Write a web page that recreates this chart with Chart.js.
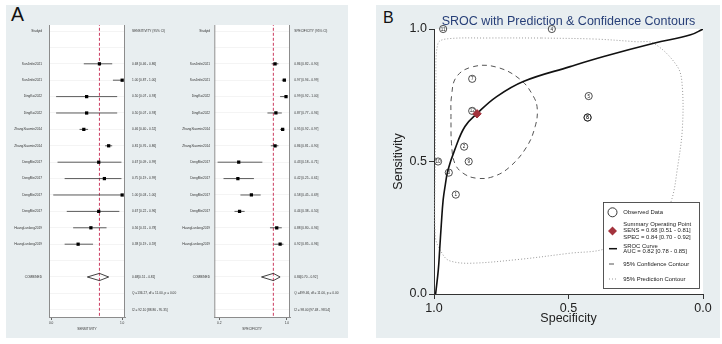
<!DOCTYPE html>
<html>
<head>
<meta charset="utf-8">
<script src="https://cdn.jsdelivr.net/npm/chart.js@4.4.1/dist/chart.umd.min.js"></script>
<style>
  body { margin: 0; background: #fff; width: 722px; height: 344px; position: relative; overflow: hidden; font-family: "Liberation Sans", Arial, sans-serif; }
  .panel { position: absolute; background: #e8eef0; }
  #panelA { left: 6px; top: 5px; width: 342px; height: 333px; }
  #panelB { left: 376px; top: 5px; width: 344px; height: 333px; }
  .tag { position: absolute; line-height: 1; color: #111; }
  canvas { position: absolute; }
</style>
</head>
<body>
<div class="panel" id="panelA"></div>
<div class="panel" id="panelB"></div>
<div class="tag" style="left:11px;top:5px;font-size:19.5px;">A</div>
<div class="tag" style="left:383px;top:9.6px;font-size:16px;">B</div>
<canvas id="sensPlot" width="342" height="333" style="left:6px;top:5px;"></canvas>
<canvas id="specPlot" width="342" height="333" style="left:6px;top:5px;"></canvas>
<canvas id="sroc" width="344" height="333" style="left:376px;top:5px;"></canvas>

<script>
// ---- forest plot data ----
const studies = ['SunJinfei2021', 'SunJinfei2021', 'DingKai2022', 'DingKai2022', 'ZhangXiaomin2014', 'ZhangXiaomin2014',
  'DongMei2017', 'DongMei2017', 'DongMei2017', 'DongMei2017', 'HuangLunlang2019', 'HuangLunlang2019'];
const sensEst = [0.68, 1.00, 0.50, 0.50, 0.46, 0.81, 0.67, 0.75, 1.00, 0.67, 0.56, 0.38];
const sensLo  = [0.46, 0.87, 0.07, 0.07, 0.40, 0.76, 0.09, 0.19, 0.03, 0.22, 0.31, 0.19];
const sensHi  = [0.86, 1.00, 0.93, 0.93, 0.52, 0.86, 0.99, 0.99, 1.00, 0.96, 0.78, 0.59];
const specEst = [0.86, 0.97, 0.99, 0.87, 0.95, 0.86, 0.43, 0.42, 0.58, 0.44, 0.88, 0.92];
const specLo  = [0.82, 0.94, 0.92, 0.77, 0.92, 0.81, 0.18, 0.25, 0.45, 0.38, 0.80, 0.85];
const specHi  = [0.90, 0.99, 1.00, 0.94, 0.97, 0.90, 0.71, 0.61, 0.69, 0.50, 0.94, 0.96];
const sensPooled = [0.68, 0.51, 0.81];
const specPooled = [0.84, 0.70, 0.92];
const sensStats = ['Q =136.27, df = 11.00, p = 0.00', 'I2 = 92.10 [88.86 - 95.35]'];
const specStats = ['Q =499.46, df = 11.00, p = 0.00', 'I2 = 98.00 [97.48 - 98.54]'];
const sensTicks = [0, 1];
const specTicks = [0.2, 1];

// ---- SROC data ----
const obsSpec  = [0.966, 0.562, 0.858, 0.425, 0.429, 0.429, 0.858, 0.888, 0.871, 0.985, 0.945, 0.919];
const obsSens  = [1.000, 1.000, 0.812, 0.747, 0.666, 0.666, 0.691, 0.556, 0.500, 0.500, 0.458, 0.375];
const obsLabel = ['11', '4', '7', '5', '6', '8', '12', '2', '9', '10', '3', '1'];
const summarySpec = 0.84;
const summarySens = 0.68;
const curveSpec = [0.994, 0.984, 0.979, 0.973, 0.966, 0.958, 0.948, 0.923, 0.885, 0.838, 0.767, 0.668, 0.494, 0.369, 0.183, 0.046, 0.0];
const curveSens = [0.000, 0.091, 0.166, 0.260, 0.355, 0.412, 0.468, 0.544, 0.632, 0.683, 0.745, 0.802, 0.858, 0.896, 0.946, 0.978, 1.0];
const confSpec = [0.937, 0.935, 0.916, 0.854, 0.767, 0.680, 0.630, 0.616, 0.624, 0.655, 0.718, 0.780, 0.842, 0.892, 0.923, 0.935, 0.937];
const confSens = [0.660, 0.745, 0.820, 0.858, 0.856, 0.810, 0.745, 0.696, 0.632, 0.556, 0.480, 0.443, 0.437, 0.456, 0.494, 0.569, 0.660];
const predSpec = [0.600, 0.400, 0.250, 0.183, 0.095, 0.077, 0.077, 0.096, 0.115, 0.146, 0.233, 0.369, 0.494, 0.680, 0.867, 0.941, 0.966, 0.995, 0.995, 0.993, 0.985, 0.950, 0.800, 0.600];
const predSens = [0.966, 0.962, 0.952, 0.946, 0.858, 0.783, 0.620, 0.468, 0.361, 0.298, 0.234, 0.169, 0.154, 0.131, 0.116, 0.125, 0.147, 0.216, 0.500, 0.800, 0.946, 0.963, 0.966, 0.966];
const legendText = {
  observed: 'Observed Data',
  summary: ['Summary Operating Point', 'SENS = 0.68 [0.51 - 0.81]', 'SPEC = 0.84 [0.70 - 0.92]'],
  curve: ['SROC Curve', 'AUC = 0.82 [0.78 - 0.85]'],
  conf: '95% Confidence Contour',
  pred: '95% Prediction Contour'
};

Chart.defaults.font.family = '"Liberation Sans", Arial, sans-serif';
Chart.defaults.animation = false;

const fmt = (e, lo, hi) => `${e.toFixed(2)} [${lo.toFixed(2)} - ${hi.toFixed(2)}]`;

// white plotting region + side frame lines
const plotFrame = {
  id: 'plotFrame',
  beforeDraw(chart, args, opts) {
    const { ctx, chartArea: a } = chart;
    ctx.save();
    ctx.fillStyle = '#fff';
    ctx.fillRect(a.left, a.top, a.right - a.left, a.bottom - a.top);
    ctx.restore();
  },
  afterDraw(chart, args, opts) {
    if (!opts.sides) return;
    const { ctx, chartArea: a } = chart;
    ctx.save();
    ctx.strokeStyle = '#8c8c8c';
    ctx.lineWidth = 1;
    ctx.beginPath();
    ctx.moveTo(a.left + 0.5, a.top); ctx.lineTo(a.left + 0.5, a.bottom);
    ctx.moveTo(a.right - 0.5, a.top); ctx.lineTo(a.right - 0.5, a.bottom);
    ctx.stroke();
    ctx.restore();
  }
};

// text columns left and right of a forest plot
const forestText = {
  id: 'forestText',
  afterDraw(chart, args, opts) {
    const { ctx, chartArea: a, scales: { y } } = chart;
    ctx.save();
    ctx.font = '3.2px "Liberation Sans", Arial, sans-serif';
    ctx.fillStyle = '#333';
    ctx.textBaseline = 'middle';
    ctx.textAlign = 'right';
    opts.left.forEach(([r, t]) => ctx.fillText(t, a.left - opts.gapL, y.getPixelForValue(r)));
    ctx.textAlign = 'left';
    opts.right.forEach(([r, t]) => ctx.fillText(t, a.right + opts.gapR, y.getPixelForValue(r)));
    ctx.restore();
  }
};

function forest(canvasId, o) {
  const ci = [];
  o.lo.forEach((lo, i) => {
    ci.push({ x: lo, y: i + 2 }, { x: o.hi[i], y: i + 2 }, { x: null, y: null });
  });
  const pts = o.est.map((e, i) => ({ x: e, y: i + 2 }));
  const [pe, plo, phi] = o.pooled;
  const diamond = [{ x: plo, y: 15 }, { x: pe, y: 14.78 }, { x: phi, y: 15 }, { x: pe, y: 15.22 }, { x: plo, y: 15 }];
  const left = [[0, 'Studyid'], ...studies.map((s, i) => [i + 2, s]), [15, 'COMBINED']];
  const right = [[0, o.header], ...o.est.map((e, i) => [i + 2, fmt(e, o.lo[i], o.hi[i])]),
    [15, `${pe.toFixed(2)}[${plo.toFixed(2)} - ${phi.toFixed(2)}]`], [16, o.stats[0]], [17, o.stats[1]]];

  return new Chart(document.getElementById(canvasId), {
    type: 'scatter',
    data: {
      datasets: [
        { data: pts, pointStyle: 'rect', pointRadius: 2.3, pointHoverRadius: 2.3, backgroundColor: '#000', borderColor: '#000', borderWidth: 0 },
        { data: ci, showLine: true, spanGaps: false, borderColor: '#333', borderWidth: 0.8, pointRadius: 0, pointHoverRadius: 0 },
        { data: diamond, showLine: true, borderColor: '#111', borderWidth: 0.8, pointRadius: 0, pointHoverRadius: 0 },
        { data: [{ x: pe, y: -0.5 }, { x: pe, y: 17.6 }], showLine: true, borderColor: '#cc3a5f', borderWidth: 1, borderDash: [3, 2], pointRadius: 0, pointHoverRadius: 0 }
      ]
    },
    options: {
      responsive: false,
      layout: { padding: { left: o.padL, right: o.padR, top: 20, bottom: 0 } },
      scales: {
        x: {
          type: 'linear', min: o.min, max: o.max,
          afterBuildTicks: s => { s.ticks = o.ticks.map(v => ({ value: v })); },
          afterFit: s => { s.height = 21; },
          grid: { drawOnChartArea: false, drawTicks: true, tickLength: 3, color: '#666' },
          border: { display: true, color: '#8c8c8c' },
          ticks: { font: { size: 3.2 }, color: '#333', padding: 1.5, maxRotation: 0, callback: v => v.toFixed(1) },
          title: { display: true, text: o.title, font: { size: 3.2 }, color: '#333', padding: { top: 0, bottom: 7 } }
        },
        y: {
          type: 'linear', min: -0.366, max: 17.44, reverse: true,
          afterBuildTicks: s => { s.ticks = Array.from({ length: 18 }, (_, k) => ({ value: k })); },
          afterFit: s => { s.width = 0; },
          ticks: { display: false },
          grid: { color: '#ececec', lineWidth: 0.6, drawTicks: false },
          border: { display: false }
        }
      },
      plugins: {
        legend: { display: false },
        tooltip: { enabled: false },
        plotFrame: { sides: true },
        forestText: { left, right, gapL: o.gapL, gapR: o.gapR }
      }
    },
    plugins: [plotFrame, forestText]
  });
}

forest('sensPlot', {
  est: sensEst, lo: sensLo, hi: sensHi, pooled: sensPooled, stats: sensStats,
  header: 'SENSITIVITY (95% CI)', title: 'SENSITIVITY', ticks: sensTicks,
  min: -0.03, max: 1.04, padL: 43, padR: 223, gapL: 7, gapR: 7
});
forest('specPlot', {
  est: specEst, lo: specLo, hi: specHi, pooled: specPooled, stats: specStats,
  header: 'SPECIFICITY (95% CI)', title: 'SPECIFICITY', ticks: specTicks,
  min: 0.141, max: 1.037, padL: 208.3, padR: 58, gapL: 4.3, gapR: 4.3
});

// ---- SROC panel ----
const toXY = (xs, ys) => xs.map((x, i) => ({ x, y: ys[i] }));

const srocTitle = {
  id: 'srocTitle',
  afterDraw(chart) {
    const { ctx, chartArea: a } = chart;
    ctx.save();
    ctx.font = '12.5px "Liberation Sans", Arial, sans-serif';
    ctx.fillStyle = '#273f78';
    ctx.textAlign = 'center';
    ctx.textBaseline = 'alphabetic';
    ctx.fillText('SROC with Prediction & Confidence Contours', (a.left + a.right) / 2, 20);
    ctx.restore();
  }
};

const obsLabels = {
  id: 'obsLabels',
  afterDatasetsDraw(chart) {
    const { ctx } = chart;
    const meta = chart.getDatasetMeta(1);
    ctx.save();
    ctx.font = '4.6px "Liberation Sans", Arial, sans-serif';
    ctx.fillStyle = '#222';
    ctx.textAlign = 'center';
    ctx.textBaseline = 'middle';
    meta.data.forEach((pt, i) => ctx.fillText(obsLabel[i], pt.x, pt.y + 0.3));
    ctx.restore();
  }
};

const srocLegend = {
  id: 'srocLegend',
  afterDraw(chart) {
    const { ctx, chartArea: a } = chart;
    const W = 97, H = 87;
    const L = a.right - 3 - W, T = a.bottom - 5 - H;
    ctx.save();
    ctx.fillStyle = '#fff';
    ctx.fillRect(L, T, W, H);
    ctx.strokeStyle = '#444';
    ctx.lineWidth = 0.9;
    ctx.strokeRect(L + 0.5, T + 0.5, W - 1, H - 1);

    const sx = L + 9.5, tx = L + 20.3;
    // observed
    ctx.beginPath();
    ctx.arc(sx, T + 10.3, 4.5, 0, Math.PI * 2);
    ctx.strokeStyle = '#222'; ctx.lineWidth = 0.9; ctx.stroke();
    // summary diamond
    ctx.beginPath();
    ctx.moveTo(sx, T + 24.5); ctx.lineTo(sx + 4.5, T + 29); ctx.lineTo(sx, T + 33.5); ctx.lineTo(sx - 4.5, T + 29);
    ctx.closePath(); ctx.fillStyle = '#a3333d'; ctx.fill();
    // curve
    ctx.beginPath(); ctx.moveTo(sx - 3.5, T + 46.7); ctx.lineTo(sx + 4.5, T + 46.7);
    ctx.strokeStyle = '#111'; ctx.lineWidth = 1.5; ctx.stroke();
    // confidence
    ctx.beginPath(); ctx.setLineDash([5, 3]); ctx.moveTo(sx - 3.5, T + 62); ctx.lineTo(sx + 4.5, T + 62);
    ctx.strokeStyle = '#555'; ctx.lineWidth = 1; ctx.stroke();
    // prediction
    ctx.beginPath(); ctx.setLineDash([1, 2]); ctx.moveTo(sx - 3.5, T + 77); ctx.lineTo(sx + 4.5, T + 77);
    ctx.strokeStyle = '#999'; ctx.stroke();
    ctx.setLineDash([]);

    ctx.font = '5.9px "Liberation Sans", Arial, sans-serif';
    ctx.fillStyle = '#222';
    ctx.textAlign = 'left';
    ctx.textBaseline = 'middle';
    ctx.fillText(legendText.observed, tx, T + 10.3);
    legendText.summary.forEach((t, k) => ctx.fillText(t, tx, T + 22.6 + k * 6.2));
    legendText.curve.forEach((t, k) => ctx.fillText(t, tx, T + 44 + k * 5.8));
    ctx.fillText(legendText.conf, tx, T + 62);
    ctx.fillText(legendText.pred, tx, T + 77);
    ctx.restore();
  }
};

new Chart(document.getElementById('sroc'), {
  type: 'scatter',
  data: {
    datasets: [
      { label: 'Summary Operating Point', data: [{ x: summarySpec, y: summarySens }], pointStyle: 'rectRot',
        pointRadius: 4.2, pointHoverRadius: 4.2, backgroundColor: '#a3333d', borderColor: '#a3333d', clip: false },
      { label: 'Observed Data', data: toXY(obsSpec, obsSens), pointRadius: 3.6, pointHoverRadius: 3.6,
        borderColor: '#222', borderWidth: 0.8, backgroundColor: 'rgba(255,255,255,0)', clip: false },
      { label: 'SROC Curve', data: toXY(curveSpec, curveSens), showLine: true, borderColor: '#111',
        borderWidth: 1.6, pointRadius: 0, pointHoverRadius: 0, tension: 0.4 },
      { label: '95% Confidence Contour', data: toXY(confSpec, confSens), showLine: true, borderColor: '#555',
        borderWidth: 1, borderDash: [5, 4], pointRadius: 0, pointHoverRadius: 0, tension: 0.4 },
      { label: '95% Prediction Contour', data: toXY(predSpec, predSens), showLine: true, borderColor: '#9a9a9a',
        borderWidth: 1, borderDash: [1, 2], pointRadius: 0, pointHoverRadius: 0, tension: 0.35 }
    ]
  },
  options: {
    responsive: false,
    layout: { padding: { left: 0, right: 17, top: 24, bottom: 0 } },
    scales: {
      x: {
        type: 'linear', min: 0, max: 1, reverse: true,
        afterBuildTicks: s => { s.ticks = [0, 0.5, 1].map(v => ({ value: v })); },
        afterFit: s => { s.height = 44; },
        grid: { drawOnChartArea: false, drawTicks: true, tickLength: 5, color: '#333' },
        border: { display: true, color: '#333' },
        ticks: { font: { size: 12.5 }, color: '#222', padding: 2, maxRotation: 0, callback: v => v.toFixed(1) },
        title: { display: true, text: 'Specificity', font: { size: 12.5 }, color: '#222', padding: { top: 0, bottom: 12 } }
      },
      y: {
        type: 'linear', min: 0, max: 1,
        afterBuildTicks: s => { s.ticks = [0, 0.5, 1].map(v => ({ value: v })); },
        afterFit: s => { s.width = 58; },
        grid: { drawOnChartArea: false, drawTicks: true, tickLength: 5, color: '#333' },
        border: { display: true, color: '#333' },
        ticks: { font: { size: 12.5 }, color: '#222', padding: 2, callback: v => v.toFixed(1) },
        title: { display: true, text: 'Sensitivity', font: { size: 12.5 }, color: '#222', padding: { top: 15, bottom: 0 } }
      }
    },
    plugins: {
      legend: { display: false },
      tooltip: { enabled: false },
      plotFrame: { sides: false }
    }
  },
  plugins: [plotFrame, srocTitle, obsLabels, srocLegend]
});
</script>
</body>
</html>
